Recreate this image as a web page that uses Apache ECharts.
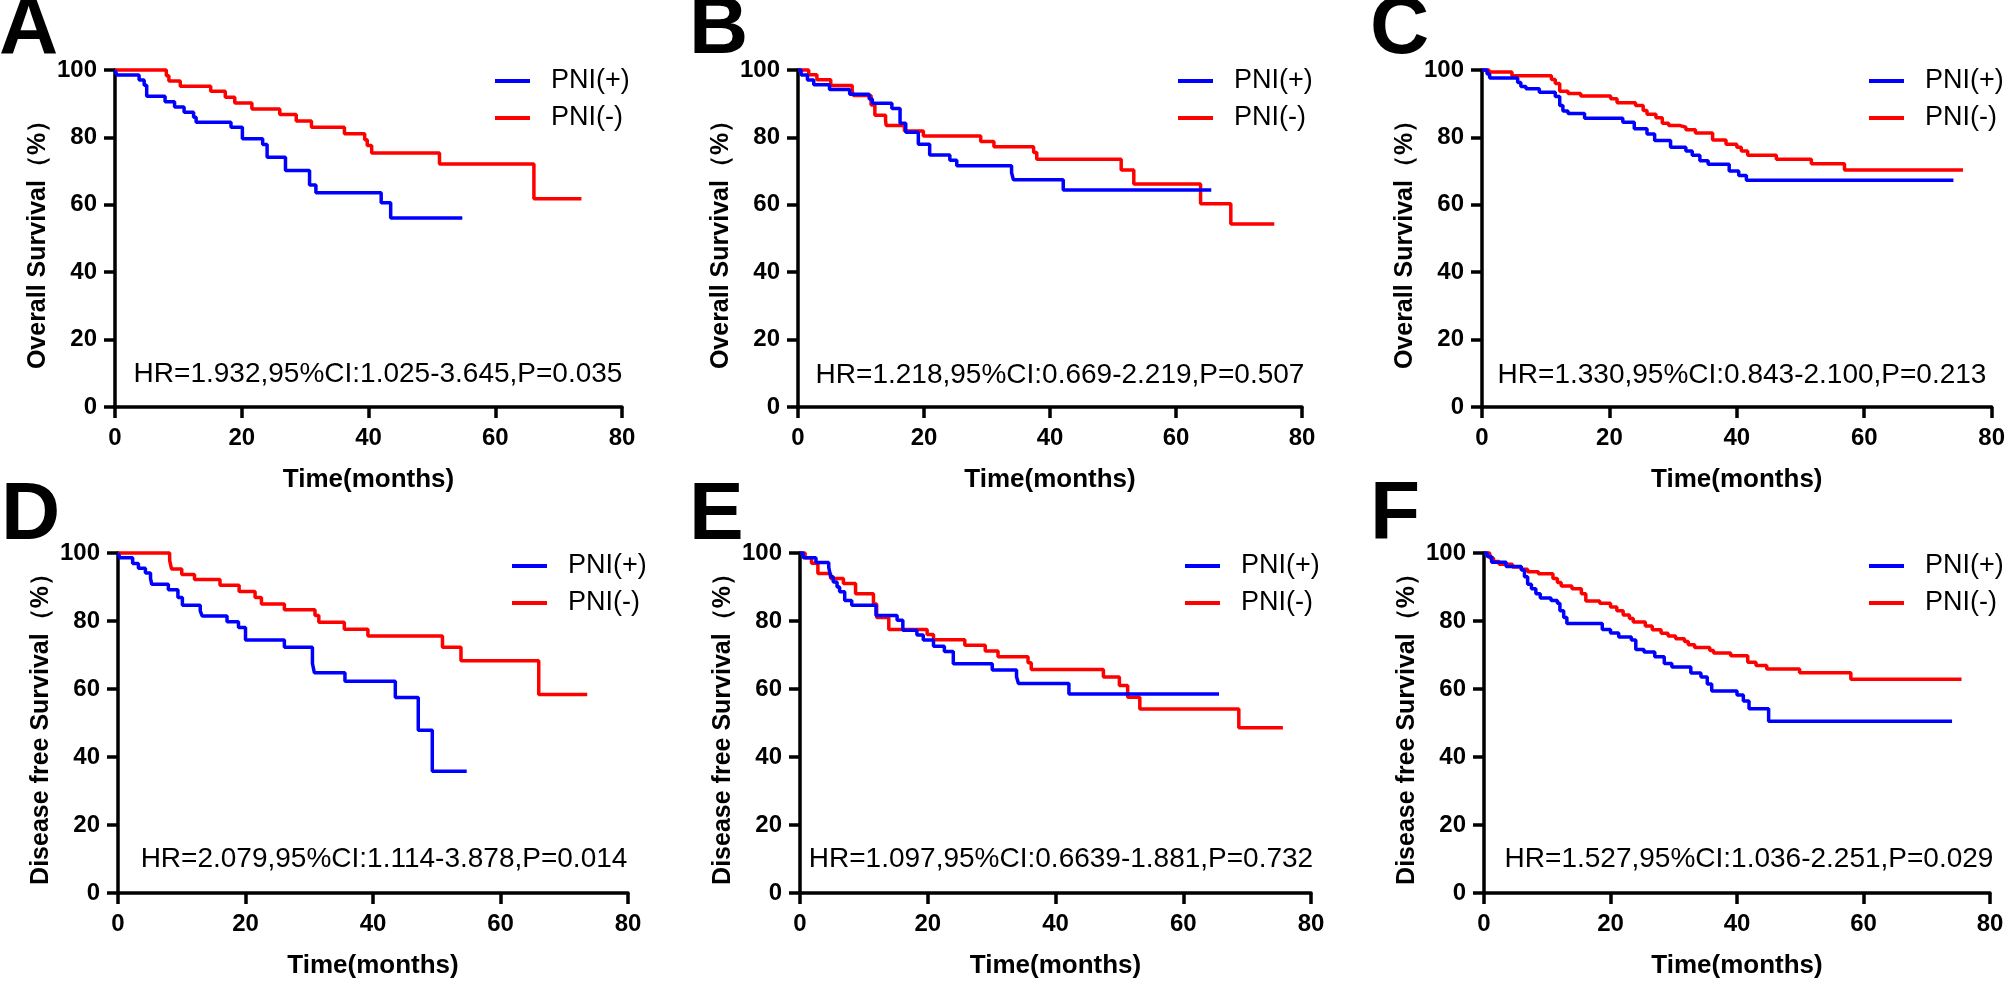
<!DOCTYPE html>
<html>
<head>
<meta charset="utf-8">
<script src="https://cdn.jsdelivr.net/npm/echarts@6/dist/echarts.min.js"></script>
<style>
html,body{margin:0;padding:0;background:#fff;}
#chart{width:2008px;height:985px;}
</style>
</head>
<body>
<div id="chart"></div>
<script>
// ---------- DATA ----------
const seriesNames = ['PNI(+)', 'PNI(-)'];
const xTicks = [0, 20, 40, 60, 80];
const yTicks = [0, 20, 40, 60, 80, 100];
const panelLetters = ['A', 'B', 'C', 'D', 'E', 'F'];
const yTitles = ['Overall Survival（%）', 'Overall Survival（%）', 'Overall Survival（%）',
                 'Disease free Survival（%）', 'Disease free Survival（%）', 'Disease free Survival（%）'];
const xTitle = 'Time(months)';
const hrTexts = [
  'HR=1.932,95%CI:1.025-3.645,P=0.035',
  'HR=1.218,95%CI:0.669-2.219,P=0.507',
  'HR=1.330,95%CI:0.843-2.100,P=0.213',
  'HR=2.079,95%CI:1.114-3.878,P=0.014',
  'HR=1.097,95%CI:0.6639-1.881,P=0.732',
  'HR=1.527,95%CI:1.036-2.251,P=0.029'
];

// Panel A (OS)
const A_pos_t = [0, 0.3, 3.8, 4.6, 5.0, 7.9, 9.4, 10.9, 12.4, 12.8, 18.3, 20.1, 23.3, 24.0, 26.9, 30.7, 31.7, 42.0, 43.5, 54.8];
const A_pos_s = [100, 98.5, 97.0, 95.5, 92.2, 90.6, 89.0, 87.5, 86.0, 84.5, 83.0, 79.6, 77.9, 74.1, 70.2, 65.9, 63.6, 60.6, 56.1, 56.1];
const A_neg_t = [0, 8.1, 8.5, 10.3, 15.1, 17.4, 18.9, 21.6, 26.0, 28.6, 31.0, 36.2, 39.4, 39.8, 40.5, 51.2, 66.1, 73.6];
const A_neg_s = [100, 98.3, 96.7, 95.2, 93.7, 91.9, 90.2, 88.4, 86.8, 84.9, 83.0, 81.1, 79.3, 77.6, 75.4, 72.1, 61.8, 61.8];

// Panel B (OS)
const B_pos_t = [0, 0.5, 1.5, 2.5, 5.0, 8.2, 11.3, 11.8, 14.9, 16.2, 17.1, 19.1, 20.9, 24.1, 25.2, 33.9, 34.2, 42.1, 65.6];
const B_pos_s = [100, 98.5, 97.0, 95.6, 94.2, 92.8, 91.4, 90.1, 88.6, 84.2, 81.5, 78.0, 74.8, 73.2, 71.6, 69.5, 67.4, 64.4, 64.4];
const B_neg_t = [0, 1.7, 3.0, 5.2, 8.6, 8.8, 11.6, 12.2, 13.9, 14.0, 16.9, 19.9, 29.0, 31.1, 37.4, 37.9, 51.3, 53.3, 63.9, 68.7, 75.6];
const B_neg_s = [100, 98.6, 97.1, 95.4, 93.9, 92.4, 89.6, 86.6, 85.0, 83.5, 81.9, 80.4, 78.8, 77.2, 75.5, 73.5, 70.3, 66.2, 60.3, 54.3, 54.3];

// Panel C (OS)
const C_pos_t = [0, 0.8, 1.2, 5.6, 6.1, 6.9, 9.0, 11.5, 12.2, 12.7, 13.5, 16.1, 22.1, 23.9, 25.9, 27.1, 29.6, 32.0, 33.0, 34.2, 35.5, 38.8, 40.3, 41.5, 74.0];
const C_pos_s = [100, 98.8, 97.6, 96.3, 95.1, 94.4, 93.4, 92.1, 89.5, 87.8, 87.1, 85.7, 84.5, 82.6, 81.0, 79.1, 77.1, 76.0, 74.7, 73.1, 72.0, 70.0, 68.7, 67.3, 67.3];
const C_neg_t = [0, 1.1, 4.7, 10.9, 11.5, 12.2, 13.5, 15.5, 20.2, 21.2, 24.1, 25.3, 25.9, 27.3, 28.3, 29.3, 31.1, 32.0, 33.5, 36.2, 38.3, 40.0, 40.7, 41.7, 46.2, 51.7, 56.9, 75.5];
const C_neg_s = [100, 99.4, 98.3, 97.2, 96.0, 93.7, 93.0, 92.3, 91.5, 90.3, 89.5, 88.0, 86.9, 85.8, 84.2, 83.5, 83.0, 82.3, 81.3, 79.2, 78.0, 77.1, 76.0, 74.7, 73.5, 72.2, 70.3, 70.3];

// Panel D (DFS)
const D_pos_t = [0, 0.3, 2.3, 3.2, 4.3, 5.1, 5.3, 7.9, 9.4, 10.1, 12.9, 13.2, 17.1, 18.9, 20.0, 26.1, 30.5, 30.8, 35.6, 43.5, 47.1, 49.3, 54.7];
const D_pos_s = [100, 98.6, 96.9, 95.5, 94.1, 92.5, 90.8, 89.2, 86.9, 84.6, 83.0, 81.5, 79.8, 78.1, 74.4, 72.3, 67.5, 64.8, 62.3, 57.5, 47.9, 35.8, 35.8];
const D_neg_t = [0, 8.1, 8.4, 10.0, 12.0, 16.0, 19.0, 21.5, 22.5, 26.1, 30.9, 31.5, 35.5, 39.2, 50.9, 53.8, 66.0, 73.6];
const D_neg_s = [100, 97.8, 95.3, 93.7, 92.2, 90.5, 88.7, 86.9, 85.0, 83.3, 81.6, 79.6, 77.6, 75.6, 72.3, 68.3, 58.4, 58.4];

// Panel E (DFS)
const E_pos_t = [0, 0.5, 2.5, 4.5, 4.8, 5.2, 5.8, 6.2, 7.0, 8.1, 11.9, 15.2, 16.1, 18.3, 19.3, 20.9, 22.6, 24.0, 30.1, 33.9, 34.2, 42.1, 65.6];
const E_pos_s = [100, 98.6, 97.2, 95.8, 93.0, 91.5, 90.0, 88.6, 86.0, 84.6, 81.6, 80.2, 77.3, 75.9, 74.4, 72.6, 71.0, 67.4, 65.6, 63.6, 61.6, 58.5, 58.5];
const E_neg_t = [0, 0.8, 1.8, 2.8, 4.8, 6.8, 8.7, 11.5, 12.0, 13.9, 19.9, 20.9, 25.8, 29.0, 31.0, 35.7, 36.2, 47.5, 50.0, 51.3, 53.2, 68.7, 75.6];
const E_neg_s = [100, 98.6, 97.0, 94.0, 92.5, 91.0, 88.0, 85.0, 81.0, 77.5, 76.0, 74.5, 72.9, 71.2, 69.5, 67.7, 65.7, 63.5, 61.0, 57.6, 54.1, 48.6, 48.6];

// Panel F (DFS)
const F_pos_t = [0, 0.5, 1.2, 3.5, 5.9, 6.4, 6.9, 7.5, 8.2, 8.9, 10.6, 11.6, 12.0, 12.6, 13.1, 18.7, 20.0, 21.3, 23.3, 24.0, 25.3, 27.0, 28.5, 29.7, 32.7, 34.3, 35.3, 36.0, 40.0, 41.0, 41.9, 45.0, 74.0];
const F_pos_s = [100, 99.0, 97.3, 96.0, 95.0, 93.0, 90.8, 89.5, 88.0, 86.8, 86.0, 85.2, 83.0, 81.0, 79.3, 77.5, 76.5, 75.3, 74.4, 71.6, 70.9, 69.5, 67.5, 66.5, 64.7, 63.5, 61.5, 59.4, 58.2, 56.5, 54.2, 50.5, 50.5];
const F_neg_t = [0, 0.9, 1.5, 2.4, 4.5, 5.9, 6.9, 8.6, 10.9, 11.6, 12.2, 13.9, 15.4, 16.1, 18.3, 20.0, 21.0, 22.0, 23.0, 23.6, 25.5, 26.6, 28.0, 29.1, 30.3, 31.7, 32.3, 33.3, 35.7, 36.3, 39.0, 41.7, 43.0, 44.7, 49.9, 58.0, 75.5];
const F_neg_s = [100, 98.5, 97.5, 96.7, 95.9, 95.2, 94.5, 93.9, 92.5, 91.3, 90.3, 89.5, 88.0, 85.9, 85.2, 84.1, 83.0, 81.8, 80.7, 79.7, 78.5, 77.4, 76.4, 75.6, 74.8, 74.0, 73.0, 72.2, 71.3, 70.6, 69.8, 67.9, 66.9, 65.9, 64.8, 62.9, 62.9];

const posT = [A_pos_t, B_pos_t, C_pos_t, D_pos_t, E_pos_t, F_pos_t];
const posS = [A_pos_s, B_pos_s, C_pos_s, D_pos_s, E_pos_s, F_pos_s];
const negT = [A_neg_t, B_neg_t, C_neg_t, D_neg_t, E_neg_t, F_neg_t];
const negS = [A_neg_s, B_neg_s, C_neg_s, D_neg_s, E_neg_s, F_neg_s];

// ---------- LAYOUT ----------
const FONT = "'Liberation Sans', Arial, Helvetica, sans-serif";
const BLUE = '#0000ff', RED = '#ff0000';
const layout = [
  {left: 115, top: 70, width: 507, height: 337, lgX: 490, lgY: 62, hrX: 378, hrY: 374, ltX: -1, ltY: 30},
  {left: 798, top: 70, width: 504, height: 337, lgX: 1173, lgY: 62, hrX: 1060, hrY: 375, ltX: 689, ltY: 30},
  {left: 1482, top: 70, width: 510, height: 337, lgX: 1864, lgY: 62, hrX: 1742, hrY: 375, ltX: 1370, ltY: 30},
  {left: 118, top: 553, width: 510, height: 340, lgX: 507, lgY: 547, hrX: 384, hrY: 859, ltX: 1, ltY: 516},
  {left: 800, top: 553, width: 511, height: 340, lgX: 1180, lgY: 547, hrX: 1061, hrY: 859, ltX: 689, ltY: 516},
  {left: 1484, top: 553, width: 506, height: 340, lgX: 1864, lgY: 547, hrX: 1749, hrY: 859, ltX: 1370, ltY: 516}
];

const zip = (t, s) => t.map((v, i) => [v, s[i]]);

const grid = [], xAxis = [], yAxis = [], series = [], legend = [], graphic = [];
layout.forEach((L, i) => {
  grid.push({left: L.left, top: L.top, width: L.width, height: L.height, containLabel: false});
  const axisCommon = {
    axisLine: {show: true, onZero: false, lineStyle: {color: '#000', width: 3.5}},
    axisTick: {show: true, inside: false, length: 11, lineStyle: {color: '#000', width: 3.5}},
    splitLine: {show: false},
    axisLabel: {color: '#000', fontSize: 24, fontWeight: 'bold', fontFamily: FONT}
  };
  xAxis.push(Object.assign({}, axisCommon, {
    gridIndex: i, type: 'value', min: xTicks[0], max: xTicks[xTicks.length - 1], interval: 20,
    axisLabel: Object.assign({}, axisCommon.axisLabel, {margin: 19}),
    name: xTitle, nameLocation: 'middle', nameGap: 60,
    nameTextStyle: {color: '#000', fontSize: 26, fontWeight: 'bold', fontFamily: FONT}
  }));
  yAxis.push(Object.assign({}, axisCommon, {
    gridIndex: i, type: 'value', min: yTicks[0], max: yTicks[yTicks.length - 1], interval: 20,
    axisLabel: Object.assign({}, axisCommon.axisLabel, {margin: 18}),
    name: yTitles[i], nameLocation: 'middle', nameGap: 64, nameRotate: 90,
    nameTextStyle: {color: '#000', fontSize: 25, fontWeight: 'bold', fontFamily: FONT}
  }));
  series.push({
    name: seriesNames[1], type: 'line', step: 'end', xAxisIndex: i, yAxisIndex: i,
    data: zip(negT[i], negS[i]), showSymbol: false, symbol: 'none', clip: false,
    lineStyle: {color: RED, width: 3.5}, itemStyle: {color: RED}, animation: false
  });
  series.push({
    name: seriesNames[0], type: 'line', step: 'end', xAxisIndex: i, yAxisIndex: i,
    data: zip(posT[i], posS[i]), showSymbol: false, symbol: 'none', clip: false,
    lineStyle: {color: BLUE, width: 3.5}, itemStyle: {color: BLUE}, animation: false
  });
  legend.push({
    data: seriesNames, left: L.lgX, top: L.lgY, orient: 'vertical',
    icon: 'rect', itemWidth: 35, itemHeight: 4, itemGap: 9, selectedMode: false,
    textStyle: {color: '#000', fontSize: 27, fontFamily: FONT, lineHeight: 28, padding: [0, 0, 0, 16]}
  });
  graphic.push({
    type: 'text', x: L.hrX, y: L.hrY, silent: true,
    style: {text: hrTexts[i], fill: '#000', font: '28px ' + FONT, align: 'center', verticalAlign: 'middle'}
  });
  graphic.push({
    type: 'text', x: L.ltX, y: L.ltY, silent: true,
    style: {text: panelLetters[i], fill: '#000', font: 'bold 82px ' + FONT, align: 'left', verticalAlign: 'middle'}
  });
});

const chart = echarts.init(document.getElementById('chart'), null, {renderer: 'canvas'});
chart.setOption({
  backgroundColor: '#fff',
  animation: false,
  grid, xAxis, yAxis, series, legend, graphic
});
</script>
</body>
</html>
